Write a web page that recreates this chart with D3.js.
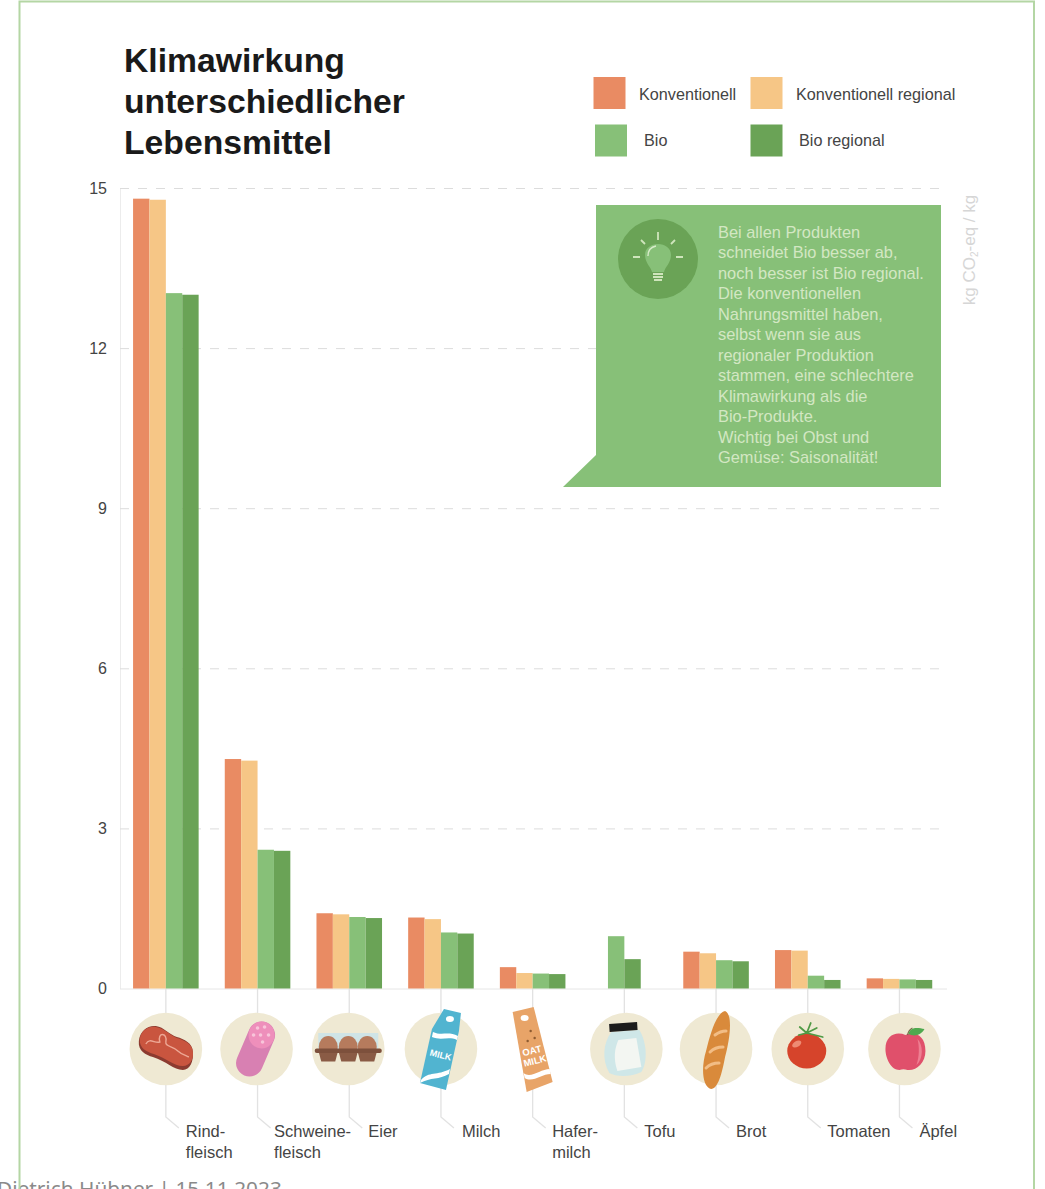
<!DOCTYPE html>
<html lang="de">
<head>
<meta charset="utf-8">
<title>Klimawirkung unterschiedlicher Lebensmittel</title>
<script src="https://cdn.jsdelivr.net/npm/d3@7"></script>
<style>
  html, body { margin: 0; background: #fff; overflow: hidden; }
  svg { display: block; font-family: "Liberation Sans", Arial, sans-serif; }
</style>
</head>
<body>
<div id="chart"></div>
<script>
const categories = ["Rindfleisch", "Schweinefleisch", "Eier", "Milch", "Hafermilch", "Tofu", "Brot", "Tomaten", "Äpfel"];
const categoryLabels = [["Rind-", "fleisch"], ["Schweine-", "fleisch"], ["Eier"], ["Milch"], ["Hafer-", "milch"], ["Tofu"], ["Brot"], ["Tomaten"], ["Äpfel"]];
const seriesNames = ["Konventionell", "Konventionell regional", "Bio", "Bio regional"];
const konventionell = [14.8, 4.3, 1.41, 1.33, 0.4, null, 0.69, 0.72, 0.19];
const konventionellRegional = [14.78, 4.27, 1.39, 1.3, 0.29, null, 0.66, 0.71, 0.18];
const bio = [13.03, 2.6, 1.34, 1.05, 0.28, 0.98, 0.53, 0.24, 0.17];
const bioRegional = [13.0, 2.58, 1.32, 1.03, 0.27, 0.55, 0.51, 0.16, 0.16];
const yTicks = [0, 3, 6, 9, 12, 15];
const titleLines = ["Klimawirkung", "unterschiedlicher", "Lebensmittel"];
const calloutLines = [
  "Bei allen Produkten", "schneidet Bio besser ab,", "noch besser ist Bio regional.",
  "Die konventionellen", "Nahrungsmittel haben,", "selbst wenn sie aus",
  "regionaler Produktion", "stammen, eine schlechtere", "Klimawirkung als die",
  "Bio-Produkte.", "Wichtig bei Obst und", "Gemüse: Saisonalität!"
];

const seriesValues = [konventionell, konventionellRegional, bio, bioRegional];
const bars = categories.flatMap((category, i) => {
  const present = seriesNames.filter((series, s) => seriesValues[s][i] !== null);
  // groups with missing series stay centred on their leader line
  const skipped = (seriesNames.length - present.length) / 2;
  return present.map(series => ({
    category,
    series,
    skipped,
    value: seriesValues[seriesNames.indexOf(series)][i]
  }));
});

const width = 1045;
const height = 1189;
const textColor = "#444";
const leaderColor = "#e2e2e2";
const creamColor = "#efe9d3";

const x = d3.scaleBand()
  .domain(categories)
  .range([120, 945.3])
  .paddingInner(0.285)
  .paddingOuter(0.1425);

const xInner = d3.scaleBand()
  .domain(seriesNames)
  .range([0, x.bandwidth()]);

const y = d3.scaleLinear()
  .domain([0, 15])
  .range([988.5, 188]);

const color = d3.scaleOrdinal()
  .domain(seriesNames)
  .range(["#e98b63", "#f6c686", "#87c078", "#6aa356"]);

const svg = d3.select("#chart")
  .append("svg")
  .attr("width", width)
  .attr("height", height)
  .attr("viewBox", `0 0 ${width} ${height}`);

// footer sits under the frame line, cut off by the page edge
svg.append("text")
  .attr("x", -3)
  .attr("y", 1196)
  .attr("font-family", "'Noto Sans', sans-serif")
  .attr("font-size", 20.8)
  .attr("fill", "#8a8a8a")
  .text("Dietrich Hübner | 15.11.2023");

svg.append("path")
  .attr("d", `M19.5,${height} V1.5 H1034 V${height}`)
  .attr("fill", "none")
  .attr("stroke", "#b4d6a4")
  .attr("stroke-width", 2);

svg.append("g")
  .selectAll("text")
  .data(titleLines)
  .join("text")
  .attr("x", 124)
  .attr("y", (d, i) => 72 + i * 41)
  .attr("font-size", 33.7)
  .attr("font-weight", 700)
  .attr("fill", "#1a1a1a")
  .text(d => d);

// legend
const legendPlaces = [
  { box: [593.5, 77], text: [639, 94] },
  { box: [750.5, 77], text: [796, 94] },
  { box: [595, 124.5], text: [644, 140] },
  { box: [750.5, 124.5], text: [799, 140] }
];
const legend = svg.append("g")
  .selectAll("g")
  .data(seriesNames)
  .join("g");

legend.append("rect")
  .attr("x", (d, i) => legendPlaces[i].box[0])
  .attr("y", (d, i) => legendPlaces[i].box[1])
  .attr("width", 32)
  .attr("height", 32)
  .attr("fill", d => color(d));

legend.append("text")
  .attr("x", (d, i) => legendPlaces[i].text[0])
  .attr("y", (d, i) => legendPlaces[i].text[1])
  .attr("dy", "0.35em")
  .attr("font-size", 16.2)
  .attr("fill", textColor)
  .text(d => d);

// y axis with dashed grid
const yAxis = svg.append("g")
  .attr("transform", "translate(120,0)")
  .call(d3.axisLeft(y).tickValues(yTicks).tickSize(0).tickPadding(13));

yAxis.select(".domain")
  .attr("stroke", "#ececec");

yAxis.selectAll("text")
  .attr("font-family", "'Liberation Sans', Arial, sans-serif")
  .attr("font-size", 16)
  .attr("fill", textColor);

yAxis.selectAll(".tick line")
  .attr("x2", 827)
  .attr("stroke", d => d === 0 ? "#e6e6e6" : "#dcdcdc")
  .attr("stroke-dasharray", d => d === 0 ? null : "9 9");

// callout
const callout = svg.append("g");

callout.append("path")
  .attr("d", "M596,205 H941 V487 H563 L596,455 Z")
  .attr("fill", "#87c078");

callout.append("circle")
  .attr("cx", 658)
  .attr("cy", 259)
  .attr("r", 40)
  .attr("fill", "#6aa356");

const bulb = callout.append("g")
  .attr("transform", "translate(658,259)");

bulb.append("path")
  .attr("d", "M-6,13 C-7,8 -13,4 -13,-4 C-13,-11 -7,-15 0,-15 C7,-15 13,-11 13,-4 C13,4 7,8 6,13 Z")
  .attr("fill", "#87c078");

bulb.append("path")
  .attr("d", "M-10,-3 C-10,-8 -7,-12 -2,-13")
  .attr("fill", "none")
  .attr("stroke", "#d8ebc9")
  .attr("stroke-width", 1.4);

bulb.append("path")
  .attr("d", "M-5,15 H5 M-5,18 H5 M-4,21 H4 M0,-19 V-27 M-13,-15 L-17,-19 M13,-15 L17,-19 M-18,-2 H-25 M18,-2 H25")
  .attr("fill", "none")
  .attr("stroke", "#cfe5bc")
  .attr("stroke-width", 1.8);

callout.append("g")
  .selectAll("text")
  .data(calloutLines)
  .join("text")
  .attr("x", 718)
  .attr("y", (d, i) => 238 + i * 20.45)
  .attr("font-size", 16.4)
  .attr("fill", "#d3e7c3")
  .text(d => d);

const unit = svg.append("text")
  .attr("transform", "translate(975,250) rotate(-90)")
  .attr("text-anchor", "middle")
  .attr("font-size", 17)
  .attr("fill", "#d6d6d6");
unit.append("tspan").text("kg CO");
unit.append("tspan").attr("font-size", 10).attr("dy", 3).text("2");
unit.append("tspan").attr("dy", -3).text("-eq / kg");

// leader lines go behind the icons
svg.append("g")
  .selectAll("path")
  .data(categories)
  .join("path")
  .attr("d", d => {
    const cx = x(d) + x.bandwidth() / 2;
    return `M${cx},${y(0)} V1117 L${cx + 13},1128`;
  })
  .attr("fill", "none")
  .attr("stroke", leaderColor)
  .attr("stroke-width", 1.3);

// bars
svg.append("g")
  .selectAll("rect")
  .data(bars)
  .join("rect")
  .attr("x", d => x(d.category) + xInner(d.series) - d.skipped * xInner.bandwidth())
  .attr("y", d => y(d.value))
  .attr("width", xInner.bandwidth())
  .attr("height", d => y(0) - y(d.value))
  .attr("fill", d => color(d.series));

// category labels
const labelShift = [20, 16.5, 19, 21, 19.5, 20, 20, 19.5, 20];
svg.append("g")
  .selectAll("text")
  .data(categories)
  .join("text")
  .attr("x", (d, i) => x(d) + x.bandwidth() / 2 + labelShift[i])
  .attr("y", 1137)
  .attr("font-size", 16.5)
  .attr("fill", textColor)
  .selectAll("tspan")
  .data((d, i) => categoryLabels[i])
  .join("tspan")
  .attr("x", function () { return d3.select(this.parentNode).attr("x"); })
  .attr("dy", (d, i) => i ? 20.5 : 0)
  .text(d => d);

// food icons, each drawn around the centre of its circle
const drawIcon = {
  Rindfleisch(g) {
    g.append("path").attr("fill", "#8c3b30")
      .attr("d", "M-27,-8 C-26,-18 -18,-24 -10,-23 C-2,-22 4,-14 11,-12 C18,-10 27,-6 27,3 C28,12 24,21 17,21 C8,21 0,12 -13,8 C-20,6 -28,2 -27,-8 Z");
    g.append("path").attr("fill", "#c9553f")
      .attr("d", "M-26,-10 C-25,-18 -18,-23 -10,-22 C-2,-21 4,-14 11,-11 C18,-9 27,-5 27,3 C28,10 24,17 17,17 C8,17 0,9 -12,5 C-19,3 -27,-1 -26,-10 Z");
    g.append("path").attr("fill", "none").attr("stroke", "#eda794").attr("stroke-width", 1.4)
      .attr("d", "M-20,-5 C-16,-12 -11,-5 -6,-7 C-9,-17 2,-17 0,-7 C-1,-2 8,-3 12,2 C15,5 19,6 23,8");
  },
  Schweinefleisch(g) {
    g.append("line").attr("x1", 5).attr("y1", -14).attr("x2", -7).attr("y2", 14)
      .attr("stroke", "#d880b2").attr("stroke-width", 27).attr("stroke-linecap", "round");
    g.append("ellipse").attr("cx", 5).attr("cy", -14).attr("rx", 13).attr("ry", 13.5).attr("fill", "#ee8fbb");
    g.selectAll("circle.fat").data([[1, -21], [8, -22], [12, -14], [4, -14], [-3, -14], [6, -7]]).join("circle")
      .attr("class", "fat").attr("cx", d => d[0]).attr("cy", d => d[1]).attr("r", 1.8).attr("fill", "#f8c5da");
  },
  Eier(g) {
    g.append("rect").attr("x", -30).attr("y", -16).attr("width", 60).attr("height", 18).attr("fill", "#cfe4e6");
    g.selectAll("ellipse").data([-20, 0, 19]).join("ellipse")
      .attr("cx", d => d).attr("cy", -2).attr("rx", 9.5).attr("ry", 11).attr("fill", "#b67b5d");
    g.selectAll("path").data([-20, 0, 19]).join("path").attr("fill", "#8a5b45")
      .attr("d", d => `M${d - 9.5},3 H${d + 9.5} L${d + 7},12.5 H${d - 7} Z`);
    g.append("rect").attr("x", -33.5).attr("y", -0.5).attr("width", 67).attr("height", 4.5).attr("rx", 2).attr("fill", "#7d503c");
  },
  Milch(g) {
    g.append("path").attr("fill", "#51b4d0")
      .attr("d", "M3,-40 L20,-36 L18,-18 L5,41 L-21,34 L-9,-20 Z");
    g.append("path").attr("fill", "#fff")
      .attr("d", "M-8,-17 C0,-13 8,-18 17,-13 L16,-9 C8,-13 0,-8 -9,-12 Z M-20,31 C-12,22 -4,27 9,20 L8,25 C-2,31 -10,28 -21,34 Z");
    g.append("ellipse").attr("cx", 9).attr("cy", -30).attr("rx", 4).attr("ry", 3).attr("fill", "#fff");
    g.append("text").attr("transform", "translate(-1,9) rotate(14)").attr("text-anchor", "middle")
      .attr("font-size", 9).attr("font-weight", 700).attr("fill", "#fff").text("MILK");
  },
  Hafermilch(g) {
    g.append("path").attr("fill", "#e8a468")
      .attr("d", "M-20,-37 L1,-42 L20,33 L-6,43 Z");
    g.append("path").attr("fill", "#fff")
      .attr("d", "M-9,24 C-2,30 8,20 17,20 L18,25 C9,25 0,34 -8,29 Z");
    g.append("ellipse").attr("cx", -8).attr("cy", -31).attr("rx", 4).attr("ry", 3).attr("fill", "#fff");
    g.selectAll("circle").data([[-7, -14], [-2, -18], [2, -11], [-5, -8]]).join("circle")
      .attr("cx", d => d[0]).attr("cy", d => d[1]).attr("r", 1.2).attr("fill", "#8d5a30");
    g.selectAll("text").data(["OAT", "MILK"]).join("text")
      .attr("transform", (d, i) => `translate(${i ? 3 : 0},${i ? 15 : 5}) rotate(-14)`)
      .attr("text-anchor", "middle").attr("font-size", 9.5).attr("font-weight", 700).attr("fill", "#fff").text(d => d);
  },
  Tofu(g) {
    g.append("path").attr("fill", "#cfe7e8")
      .attr("d", "M-15,-17 L13,-19 C20,-8 22,12 15,23 C5,28 -10,28 -17,24 C-25,10 -23,-6 -15,-17 Z");
    g.append("path").attr("fill", "#f3f6f2")
      .attr("d", "M-8,-9 L10,-11 L15,18 L-9,22 C-13,10 -12,0 -8,-9 Z");
    g.append("rect").attr("x", -17).attr("y", -26).attr("width", 28).attr("height", 8)
      .attr("transform", "rotate(-4 -3 -22)").attr("fill", "#1c1c1c");
  },
  Brot(g) {
    g.append("path").attr("fill", "#d98a3b")
      .attr("d", "M9,-38 C17,-35 14,-10 9,8 C6,24 2,40 -5,40 C-14,38 -15,18 -10,2 C-6,-14 0,-36 9,-38 Z");
    g.append("path").attr("fill", "none").attr("stroke", "#f2bd85").attr("stroke-width", 3).attr("stroke-linecap", "round")
      .attr("d", "M-1,-14 C3,-17 6,-18 10,-18 M-6,3 C-2,-1 2,-2 7,-2 M-10,19 C-6,15 -2,14 3,14");
  },
  Tomaten(g) {
    g.append("ellipse").attr("cx", -1).attr("cy", 2).attr("rx", 19.5).attr("ry", 17.5).attr("fill", "#d6442b");
    g.append("ellipse").attr("cx", -11).attr("cy", -5).attr("rx", 5).attr("ry", 3)
      .attr("transform", "rotate(-30 -11 -5)").attr("fill", "#ee8b73");
    g.append("path").attr("fill", "none").attr("stroke", "#4f9a45").attr("stroke-width", 1.8).attr("stroke-linecap", "round")
      .attr("d", "M-1,-16 L-8,-22 M-1,-16 L3,-26 M-1,-16 L15,-12 M-1,-16 L9,-21 M-1,-16 L-9,-14");
  },
  "Äpfel"(g) {
    g.append("path").attr("fill", "#e0506b")
      .attr("d", "M1,-14 C10,-18 21,-14 21,2 C21,14 12,22 3,21 C0,20 -2,20 -5,21 C-13,21 -19,10 -19,0 C-19,-14 -8,-18 1,-14 Z");
    g.append("path").attr("fill", "#ee7f92")
      .attr("d", "M13,-10 C19,-4 19,10 12,16 C15,8 15,-3 13,-10 Z");
    g.append("path").attr("fill", "none").attr("stroke", "#7a6a4a").attr("stroke-width", 1.3).attr("d", "M3,-14 C4,-18 6,-20 8,-21");
    g.append("path").attr("fill", "#4fa94f").attr("d", "M4,-15 C6,-23 14,-21 20,-20 C17,-14 10,-12 4,-15 Z");
  }
};

const iconShift = [0, -1, -1, 0, 0, 2, 0, 0, 5];
const icons = svg.append("g")
  .selectAll("g")
  .data(categories)
  .join("g")
  .attr("transform", (d, i) => `translate(${x(d) + x.bandwidth() / 2 + iconShift[i]},1049)`);

icons.append("circle")
  .attr("r", 36.3)
  .attr("fill", creamColor);

icons.each(function (d) {
  drawIcon[d](d3.select(this));
});
</script>
</body>
</html>
